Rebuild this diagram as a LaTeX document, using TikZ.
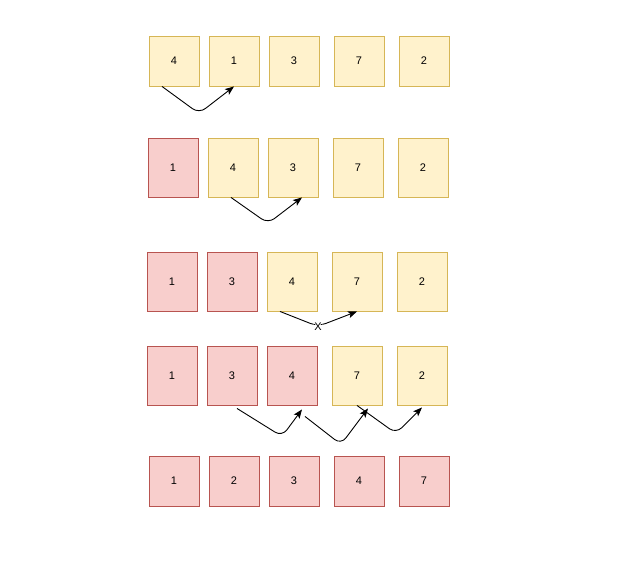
\documentclass[tikz,border=0pt]{standalone}
\usepackage{ifthen}
\usepackage{fontspec}
\setmainfont{Liberation Sans}
\usetikzlibrary{arrows.meta}
\definecolor{openfill}{HTML}{FFF2CC}
\definecolor{opendraw}{HTML}{D6B656}
\definecolor{donefill}{HTML}{F8CECC}
\definecolor{donedraw}{HTML}{B85450}
\tikzset{
  cell/.style={rectangle, minimum width=50pt, minimum height=#1, inner sep=0pt, line width=0.9pt, font=\fontsize{11}{13}\selectfont},
  open/.style={cell=#1, draw=opendraw, fill=openfill},
  done/.style={cell=#1, draw=donedraw, fill=donefill},
  move/.style={-{Stealth[length=9pt,width=7pt,inset=2pt]}, line width=0.9pt, rounded corners=8pt},
}
\begin{document}
\begin{tikzpicture}[x=1pt,y=-1pt]
\useasboundingbox (0,0) rectangle (627,579);
            \foreach \v/\x [count=\i] in {4/174,1/234,3/294,7/359,2/424}{
		      \node[open=50pt] (a\i) at (\x,61) {\v};
    		}
            \foreach \v/\x [count=\i] in {1/173,4/233,3/293,7/358,2/423}{
                \ifthenelse{\i < 2}{
		      \node[done=59pt] (b\i) at (\x,167.5) {\v};
		      }{\node[open=59pt] (b\i) at (\x,167.5) {\v};
                }
    		}
            \foreach \v/\x [count=\i] in {1/172,3/232,4/292,7/357,2/422}{
                \ifthenelse{\i < 3}{
		      \node[done=59pt] (c\i) at (\x,281.5) {\v};
		      }{\node[open=59pt] (c\i) at (\x,281.5) {\v};
                }
                \ifthenelse{\i < 4}{
		      \node[done=59pt] (d\i) at (\x,375.5) {\v};
		      }{\node[open=59pt] (d\i) at (\x,375.5) {\v};
                }
    		}
            \foreach \v/\x [count=\i] in {1/174,2/234,3/294,4/359,7/424}{
		      \node[done=50pt] (e\i) at (\x,481) {\v};
    		}
            \draw[move] ([xshift=-12pt]a1.south) -- ++(37,27) -- (a2.south);
            \draw[move] ([xshift=-2pt]b2.south) -- ++(37,26) -- ([xshift=9pt]b3.south);
            \draw[move] ([xshift=-12pt]c3.south) -- ++(38,15)
                node[fill=white, inner sep=1pt, font=\fontsize{11}{13}\selectfont] (no) {X} -- (c4.south);
            \draw[move] ([xshift=5pt,yshift=-3pt]d2.south) -- ++(45,28) -- ([xshift=10pt,yshift=-4pt]d3.south);
            \draw[move] ([xshift=13pt,yshift=-11pt]d3.south) -- ++(36,28) -- ([xshift=11pt,yshift=-3pt]d4.south);
            \draw[move] (d4.south) -- ++(39,28) -- ([yshift=-2pt]d5.south);
        \end{tikzpicture}
\end{document}
